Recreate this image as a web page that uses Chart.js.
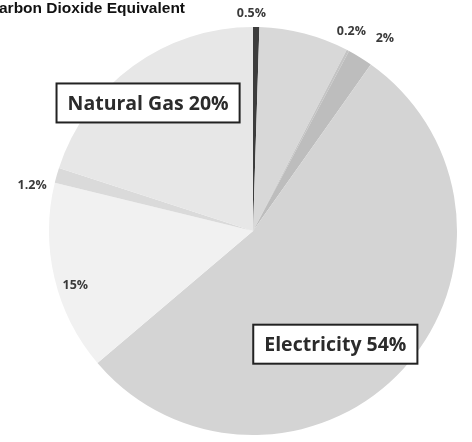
<!DOCTYPE html>
<html>
<head>
<meta charset="utf-8">
<script src="https://cdn.jsdelivr.net/npm/chart.js@4.4.0/dist/chart.umd.min.js"></script>
<style>
  html, body { margin: 0; padding: 0; background: #fff; }
  #wrap { width: 472px; height: 442px; position: relative; }
</style>
</head>
<body>
<div id="wrap"><canvas id="co2-pie"></canvas></div>
<script>
"use strict";

// Share of CO2-equivalent emissions, clockwise from 12 o'clock
var sources = ["Other A", "Other B", "Other C", "Other D", "Electricity", "Other E", "Other F", "Natural Gas"];
var shares = [0.5, 7.1, 0.2, 2, 54, 15, 1.2, 20];
var shareLabels = ["0.5%", "", "0.2%", "2%", "Electricity 54%", "15%", "1.2%", "Natural Gas 20%"];
var sliceColors = ["#3c3c3c", "#d8d8d8", "#c4c4c4", "#bdbdbd", "#d4d4d4", "#f1f1f1", "#dadada", "#e7e7e7"];

// where each label sits: distance from centre as fraction of radius, plus nudge
var labelPlace = [
    { r: 1.07, dx: -5, dy: 1, box: false },
    null,
    { r: 1.10, dx: -6, dy: -1, box: false },
    { r: 1.10, dx: 14, dy: -2, box: false },
    { r: 0.72, dx: -26, dy: 14, box: true },
    { r: 0.86, dx: -7, dy: 14, box: false },
    { r: 1.10, dx: -5, dy: 16, box: false },
    { r: 0.80, dx: -9, dy: 4, box: true }
];

var pieLabels = {
    id: "pieLabels",
    afterDatasetsDraw: function (chart) {
        var ctx = chart.ctx;
        var arcs = chart.getDatasetMeta(0).data;
        ctx.save();
        arcs.forEach(function (arc, i) {
            var place = labelPlace[i];
            if (!place || !shareLabels[i]) return;
            var p = arc.getProps(["x", "y", "startAngle", "endAngle", "outerRadius"], true);
            var mid = (p.startAngle + p.endAngle) / 2;
            var x = p.x + Math.cos(mid) * p.outerRadius * place.r + place.dx;
            var y = p.y + Math.sin(mid) * p.outerRadius * place.r + place.dy;
            ctx.textAlign = "center";
            ctx.textBaseline = "middle";
            if (place.box) {
                ctx.font = "bold 19.5px 'Open Sans', Lato, sans-serif";
                var w = ctx.measureText(shareLabels[i]).width + 22;
                var h = 39;
                ctx.fillStyle = "#ffffff";
                ctx.fillRect(x - w / 2, y - h / 2, w, h);
                ctx.strokeStyle = "#222";
                ctx.lineWidth = 2;
                ctx.strokeRect(x - w / 2, y - h / 2, w, h);
                ctx.fillStyle = "#2b2b2b";
                ctx.fillText(shareLabels[i], x, y + 1);
            } else {
                ctx.font = "bold 12.5px 'Open Sans', Lato, sans-serif";
                ctx.fillStyle = "#3a3a3a";
                ctx.fillText(shareLabels[i], x, y);
            }
        });
        ctx.restore();
    }
};

// title runs off the left edge
var clippedTitle = {
    id: "clippedTitle",
    afterDraw: function (chart) {
        var ctx = chart.ctx;
        ctx.save();
        ctx.font = "bold 15.5px 'Liberation Sans Narrow', 'Liberation Sans', Arial, sans-serif";
        ctx.fillStyle = "#111";
        ctx.textAlign = "left";
        ctx.textBaseline = "middle";
        var full = "Carbon Dioxide Equivalent";
        var cW = ctx.measureText("C").width;
        ctx.fillText(full, -cW - 1, 9);
        ctx.restore();
    }
};

new Chart(document.getElementById("co2-pie"), {
    type: "pie",
    data: {
        labels: sources,
        datasets: [{
            data: shares,
            backgroundColor: sliceColors,
            borderWidth: 0
        }]
    },
    options: {
        responsive: true,
        maintainAspectRatio: false,
        animation: false,
        layout: { padding: { left: 49, right: 15, top: 27, bottom: 7 } },
        plugins: {
            legend: { display: false },
            tooltip: { enabled: false }
        }
    },
    plugins: [pieLabels, clippedTitle]
});
</script>
</body>
</html>
